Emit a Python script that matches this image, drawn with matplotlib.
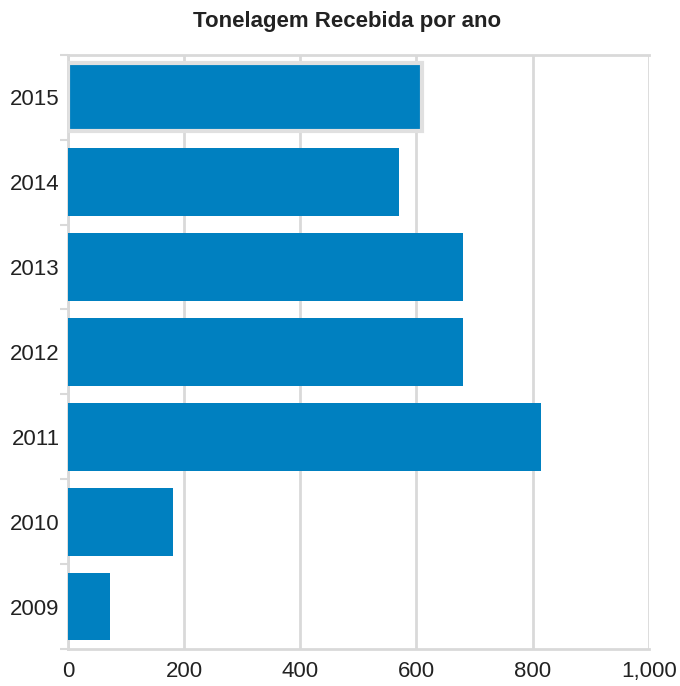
import matplotlib.pyplot as plt
import numpy as np

plt.rcParams['font.family'] = ['Liberation Sans', 'DejaVu Sans']

anos = ['2009', '2010', '2011', '2012', '2013', '2014', '2015']
toneladas = [72, 180, 814, 680, 680, 570, 610]
xticks = [0, 200, 400, 600, 800, 1000]
xlabels = ['0', '200', '400', '600', '800', '1,000']

azul = '#0080c0'
cinza = '#d9d9d9'

fig = plt.figure(figsize=(6.8, 6.86), dpi=100)
ax = fig.add_axes([0.1, 0.054, 0.854, 0.866])

y = np.arange(len(anos))
bars = ax.barh(y, toneladas, height=0.8, color=azul, zorder=3)
# the 2015 bar is highlighted (hover) in the original
bars[-1].set_edgecolor('#e0e0e0')
bars[-1].set_linewidth(3)

ax.set_xlim(0, 1000)
ax.set_ylim(-0.5, len(anos) - 0.5)
ax.set_xticks(xticks)
ax.set_xticklabels(xlabels, fontsize=16, color='#222222')
ax.set_yticks(y)
ax.set_yticklabels(anos, fontsize=16, color='#222222')
ax.tick_params(axis='x', length=0, pad=9)
ax.tick_params(axis='y', length=0, pad=6)
ax.set_yticks(np.arange(len(anos) + 1) - 0.5, minor=True)
ax.tick_params(axis='y', which='minor', length=6, color=cinza, width=1.5)

ax.grid(axis='x', color=cinza, linewidth=2, zorder=0)
for s in ['top', 'bottom', 'left']:
    ax.spines[s].set_color(cinza)
    ax.spines[s].set_linewidth(2)
ax.spines['right'].set_visible(False)

fig.text(0.511, 0.968, 'Tonelagem Recebida por ano', ha='center', va='center',
         fontsize=16, fontweight='bold', color='#222222')

plt.savefig('out.png', dpi=100)
